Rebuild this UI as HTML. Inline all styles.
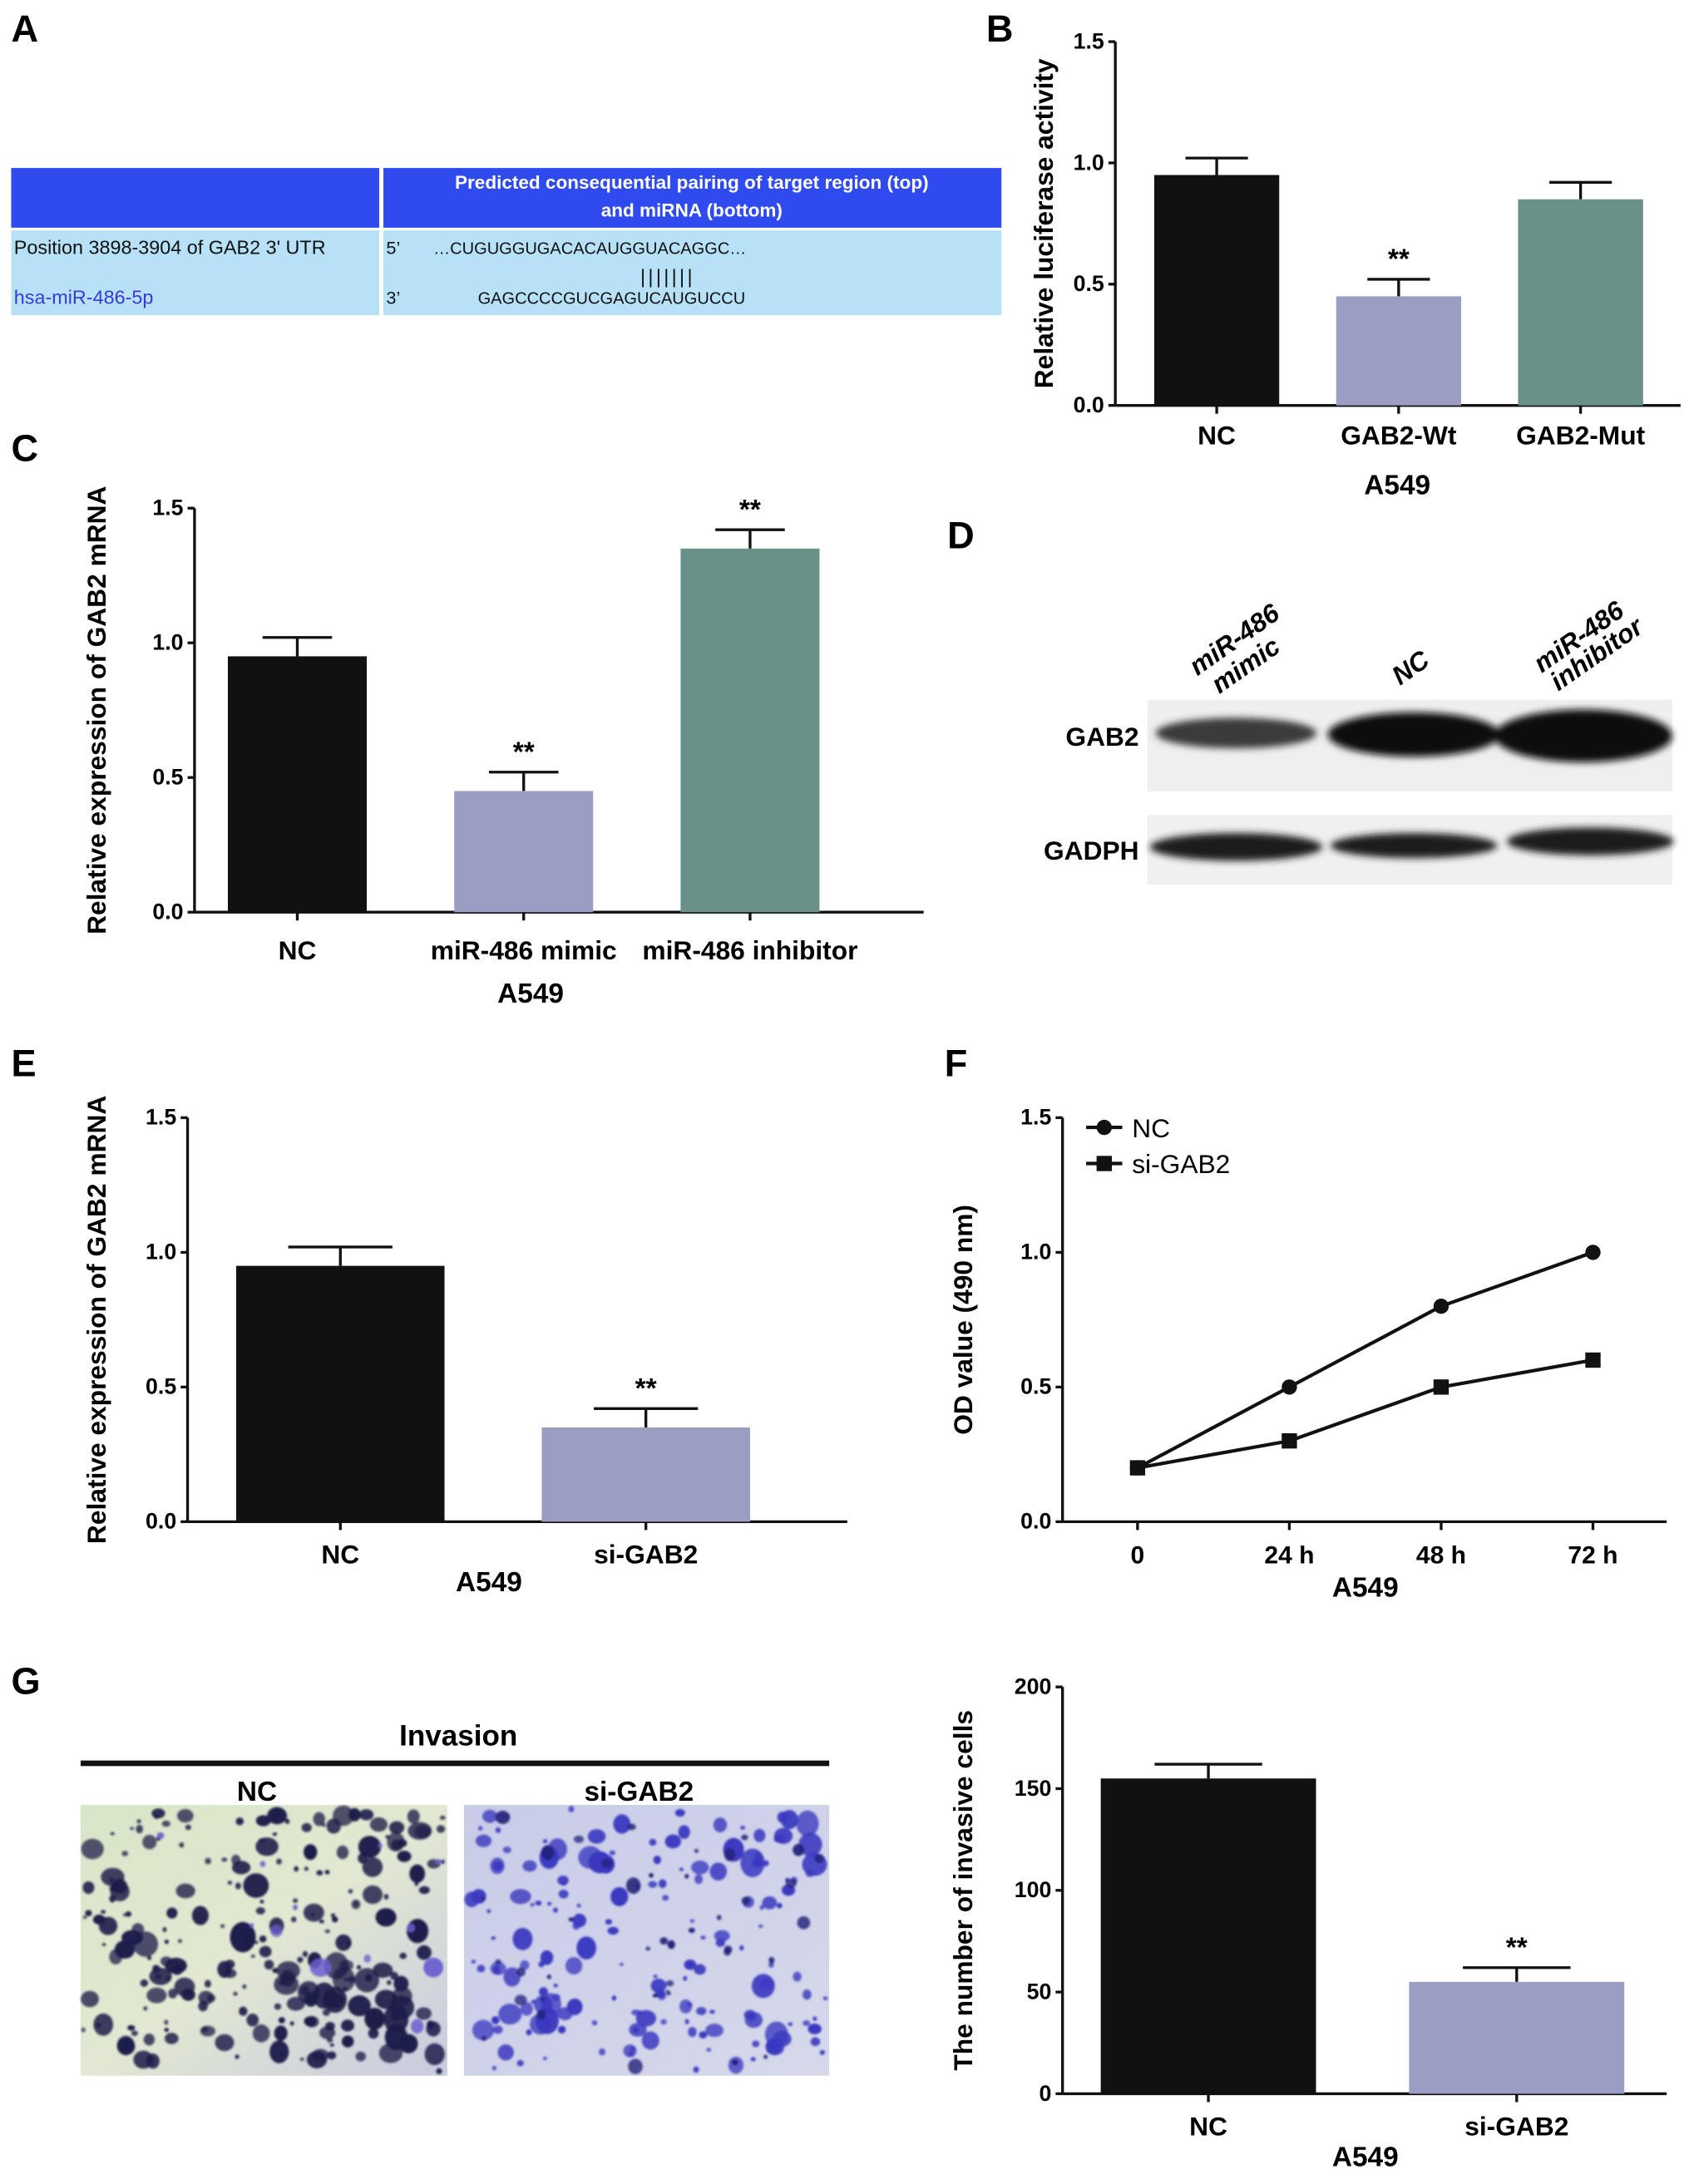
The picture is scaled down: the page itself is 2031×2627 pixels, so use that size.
<!DOCTYPE html>
<html><head><meta charset="utf-8"><style>
html,body{margin:0;padding:0;background:#fff}
svg{display:block}
text{font-family:"Liberation Sans",sans-serif}
.b{font-weight:bold}
</style></head><body>
<svg id="fig" width="2031" height="2627" viewBox="0 0 1216 1573" xmlns="http://www.w3.org/2000/svg">
<defs>
<filter id="blur2"><feGaussianBlur stdDeviation="2.5"/></filter>
<filter id="blur1"><feGaussianBlur stdDeviation="0.8"/></filter>
<linearGradient id="gNC" x1="0" y1="0" x2="1" y2="1"><stop offset="0" stop-color="#d8e6c8"/><stop offset="0.5" stop-color="#e2e8d2"/><stop offset="1" stop-color="#c9cbe0"/></linearGradient>
<linearGradient id="gSI" x1="0" y1="0" x2="1" y2="1"><stop offset="0" stop-color="#c9cce8"/><stop offset="1" stop-color="#d6d8ea"/></linearGradient>
</defs>
<g>
<text x="8" y="30" class="b" font-size="27">A</text>
<rect x="8" y="121" width="713" height="43" fill="#2f4bf0"/>
<rect x="8" y="166" width="713" height="61" fill="#b6e1f7"/>
<rect x="273" y="121" width="3" height="106" fill="#fff"/>
<text x="498" y="136" text-anchor="middle" fill="#fff" class="b" font-size="13.5">Predicted consequential pairing of target region (top)</text>
<text x="498" y="156" text-anchor="middle" fill="#fff" class="b" font-size="13.5">and miRNA (bottom)</text>
<text x="10" y="183" font-size="14" fill="#111">Position 3898-3904 of GAB2 3' UTR</text>
<text x="278" y="183" font-size="13" font-family="Liberation Serif" fill="#111">5’</text>
<text x="312" y="183" font-size="12" font-family="Liberation Serif" fill="#111">…CUGUGGUGACACAUGGUACAGGC…</text>
<text x="461" y="204" font-size="14" font-family="Liberation Serif" fill="#111" letter-spacing="2">|||||||</text>
<text x="10" y="219" font-size="14" fill="#3a3ad8">hsa-miR-486-5p</text>
<text x="278" y="219" font-size="13" font-family="Liberation Serif" fill="#111">3’</text>
<text x="344" y="219" font-size="12" font-family="Liberation Serif" fill="#111">GAGCCCCGUCGAGUCAUGUCCU</text>
</g>
<text x="710" y="30" class="b" font-size="27">B</text>
<text x="8" y="332" class="b" font-size="27">C</text>
<text x="682" y="395" class="b" font-size="27">D</text>
<text x="8" y="775" class="b" font-size="27">E</text>
<text x="680" y="775" class="b" font-size="27">F</text>
<text x="8" y="1220" class="b" font-size="27">G</text>
<g id="charts"></g>
<g>
<rect x="826" y="504" width="378" height="66" fill="#efefef"/>
<rect x="826" y="587" width="378" height="50" fill="#f0f0f0"/>
<g filter="url(#blur2)">
<ellipse cx="890" cy="528" rx="58" ry="11" fill="#3a3a3a"/>
<ellipse cx="1018" cy="529" rx="62" ry="16" fill="#111"/>
<ellipse cx="1140" cy="530" rx="64" ry="19" fill="#0a0a0a"/>
<ellipse cx="890" cy="610" rx="62" ry="10" fill="#1a1a1a"/>
<ellipse cx="1018" cy="609" rx="60" ry="9" fill="#1a1a1a"/>
<ellipse cx="1145" cy="606" rx="60" ry="10" fill="#1a1a1a"/>
</g>
<text x="820" y="537" text-anchor="end" class="b" font-size="19">GAB2</text>
<text x="820" y="619" text-anchor="end" class="b" font-size="19">GADPH</text>
<text transform="translate(862,487) rotate(-35)" class="b" font-style="italic" font-size="19">miR-486</text>
<text transform="translate(878,500) rotate(-35)" class="b" font-style="italic" font-size="19">mimic</text>
<text transform="translate(1008,494) rotate(-35)" class="b" font-style="italic" font-size="19">NC</text>
<text transform="translate(1110,485) rotate(-35)" class="b" font-style="italic" font-size="19">miR-486</text>
<text transform="translate(1122,498) rotate(-35)" class="b" font-style="italic" font-size="19">inhibitor</text>
</g>
<g>
<text x="330" y="1257" text-anchor="middle" class="b" font-size="21">Invasion</text>
<rect x="58" y="1268" width="539" height="4" fill="#111"/>
<text x="185" y="1297" text-anchor="middle" class="b" font-size="20">NC</text>
<text x="460" y="1297" text-anchor="middle" class="b" font-size="20">si-GAB2</text>
<rect x="58" y="1300" width="264" height="195" fill="url(#gNC)"/>
<rect x="334" y="1300" width="263" height="195" fill="url(#gSI)"/>
<g id="blobsNC" filter="url(#blur1)"></g>
<g id="blobsSI" filter="url(#blur1)"></g>
</g>
</svg>
<script>
const bCats=["NC","GAB2-Wt","GAB2-Mut"];
const bVals=[0.95,0.45,0.85];
const bErr=[0.07,0.07,0.07];
const bStars=[false,true,false];
const cCats=["NC","miR-486 mimic","miR-486 inhibitor"];
const cVals=[0.95,0.45,1.35];
const cErr=[0.07,0.07,0.07];
const cStars=[false,true,true];
const eCats=["NC","si-GAB2"];
const eVals=[0.95,0.35];
const eErr=[0.07,0.07];
const eStars=[false,true];
const fCats=["0","24 h","48 h","72 h"];
const fNC=[0.2,0.5,0.8,1.0];
const fSI=[0.2,0.3,0.5,0.6];
const gCats=["NC","si-GAB2"];
const gVals=[155,55];
const gErr=[7,7];
const gStars=[false,true];
const ticks15=[0.0,0.5,1.0,1.5];
const ticks200=[0,50,100,150,200];
const colors=["#111","#9b9dc2","#6a9189"];

const NS="http://www.w3.org/2000/svg";
const root=document.getElementById('charts');
function mk(tag,attrs,parent){const e=document.createElementNS(NS,tag);for(const k in attrs)e.setAttribute(k,attrs[k]);(parent||root).appendChild(e);return e;}
function txt(x,y,s,size,anchor,parent){const t=mk('text',{x:x,y:y,'font-size':size,'text-anchor':anchor||'middle','font-weight':'bold'},parent);t.textContent=s;return t;}

function axes(g,o,ticks,fmt){
  const y=v=>o.y0-(v-o.min)/(o.max-o.min)*(o.y0-o.y1);
  const ax=mk('line',{x1:o.x0,y1:o.y1,x2:o.x0,y2:o.y0,stroke:'#111','stroke-width':2},g);
  
  const xa=mk('line',{x1:o.x0,y1:o.y0,x2:o.x1,y2:o.y0,stroke:'#111','stroke-width':2},g);
  
  ticks.forEach(v=>{mk('line',{x1:o.x0-5,x2:o.x0,y1:y(v),y2:y(v),stroke:'#111','stroke-width':2},g);
    const t=txt(o.x0-8,y(v)+5,fmt(v),16,'end',g);
    });
  const tt=mk('text',{transform:`translate(${o.tx},${(o.y0+o.y1)/2}) rotate(-90)`,'font-size':19,'text-anchor':'middle','font-weight':'bold'},g);
  tt.textContent=o.title;
  
  const at=txt(o.ax,o.ay,'A549',20,'middle',g);
  
  return y;
}
function barChart(name,o,cats,vals,errs,stars,ticks,fmt){
  const g=mk('g',{});
  
  const y=axes(g,o,ticks,fmt);
  cats.forEach((c,i)=>{
    const cx=o.c0+o.step*i;
    const w=o.bw;
    const eb=mk('line',{x1:cx,x2:cx,y1:y(vals[i]),y2:y(vals[i]+errs[i]),stroke:'#111','stroke-width':2},g);
    
    mk('line',{x1:cx-w*0.25,x2:cx+w*0.25,y1:y(vals[i]+errs[i]),y2:y(vals[i]+errs[i]),stroke:'#111','stroke-width':2},g);
    const r=mk('rect',{x:cx-w/2,y:y(vals[i]),width:w,height:y(o.min)-y(vals[i]),fill:colors[i]},g);
    
    mk('line',{x1:cx,x2:cx,y1:o.y0,y2:o.y0+6,stroke:'#111','stroke-width':2},g);
    const l=txt(cx,o.y0+(o.ly||28),c,19,'middle',g);
    
    if(stars[i]){const s=txt(cx,y(vals[i]+errs[i])-8,'**',20,'middle',g);
      }
  });
}
const f1=v=>v.toFixed(1), f0=v=>String(v);
barChart('chart-b',{x0:803,x1:1210,y0:292,y1:30,min:0,max:1.5,bw:90,tx:758,title:'Relative  luciferase activity',ax:1006,ay:356,ly:28,c0:876,step:131},bCats,bVals,bErr,bStars,ticks15,f1);
barChart('chart-c',{x0:140,x1:665,y0:657,y1:366,min:0,max:1.5,bw:100,tx:76,title:'Relative expression of GAB2 mRNA',ax:382,ay:722,ly:34,c0:214,step:163},cCats,cVals,cErr,cStars,ticks15,f1);
barChart('chart-e',{x0:135,x1:610,y0:1096,y1:805,min:0,max:1.5,bw:150,tx:76,title:'Relative expression of GAB2 mRNA',ax:352,ay:1146,ly:30,c0:245,step:220},eCats,eVals,eErr,eStars,ticks15,f1);
barChart('chart-g',{x0:765,x1:1200,y0:1508,y1:1215,min:0,max:200,bw:155,tx:700,title:'The number of invasive cells',ax:983,ay:1560,ly:30,c0:870,step:222},gCats,gVals,gErr,gStars,ticks200,f0);

(function(){
  const o={x0:765,x1:1200,y0:1096,y1:805,min:0,max:1.5,tx:700,title:'OD value (490 nm)',ax:983,ay:1150};
  const g=mk('g',{});
  
  const y=axes(g,o,ticks15,f1);
  const xs=i=>819+i*109.3;
  fCats.forEach((c,i)=>{mk('line',{x1:xs(i),x2:xs(i),y1:o.y0,y2:o.y0+6,stroke:'#111','stroke-width':2},g);
    const l=txt(xs(i),o.y0+30,c,18,'middle',g);
    });
  [[fNC,'nc','circle'],[fSI,'si-gab2','square']].forEach(([d,n,sh])=>{
    const p=mk('polyline',{points:d.map((v,i)=>xs(i)+','+y(v)).join(' '),fill:'none',stroke:'#111','stroke-width':2.5},g);
    
    d.forEach((v,i)=>{let m;
      if(sh==='circle')m=mk('circle',{cx:xs(i),cy:y(v),r:5.5,fill:'#111'},g);
      else m=mk('rect',{x:xs(i)-5.5,y:y(v)-5.5,width:11,height:11,fill:'#111'},g);
      });
  });
  const lg=mk('g',{},g);
  
  mk('line',{x1:782,x2:808,y1:812,y2:812,stroke:'#111','stroke-width':2.5},lg);
  mk('circle',{cx:795,cy:812,r:5.5,fill:'#111'},lg);
  const t1=mk('text',{x:815,y:819,'font-size':19},lg);t1.textContent='NC';
  
  mk('line',{x1:782,x2:808,y1:838,y2:838,stroke:'#111','stroke-width':2.5},lg);
  mk('rect',{x:789.5,y:832.5,width:11,height:11,fill:'#111'},lg);
  const t2=mk('text',{x:815,y:845,'font-size':19},lg);t2.textContent='si-GAB2';
  
})();

let seed=7;function rnd(){seed=(seed*16807)%2147483647;return seed/2147483647;}
function blobs(id,x0,w,n,col,maxr){const g=document.getElementById(id);
  for(let i=0;i<n;i++){const r=1.5+Math.pow(rnd(),2.2)*maxr;
    mk('ellipse',{cx:x0+r+rnd()*(w-2*r),cy:1300+r+rnd()*(195-2*r),rx:r,ry:r*(0.7+rnd()*0.5),fill:col,opacity:0.75+rnd()*0.25},g);}}
blobs('blobsNC',58,264,230,'#1e1e4a',8);
blobs('blobsNC',58,264,12,'#6a60d0',9);
blobs('blobsSI',334,263,170,'#3a38c0',7.5);
blobs('blobsSI',334,263,40,'#23237a',4);
</script>
</body></html>
